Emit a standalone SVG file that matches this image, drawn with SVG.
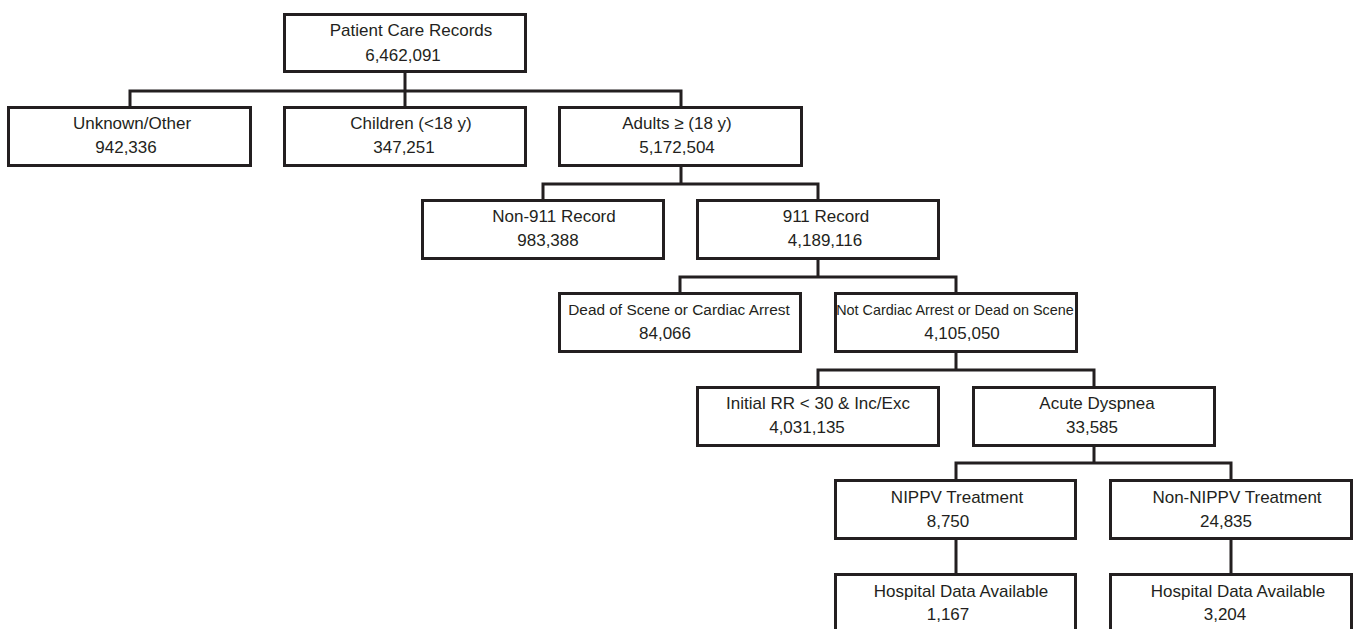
<svg xmlns="http://www.w3.org/2000/svg" width="1354" height="629" viewBox="0 0 1354 629">
<style>
.box{fill:#fff;stroke:#231f20;stroke-width:3}
.ln{fill:none;stroke:#231f20;stroke-width:3;stroke-linejoin:miter;stroke-linecap:square}
text{font-family:"Liberation Sans",Arial,sans-serif;font-size:17px;fill:#231f20;text-anchor:middle}
.sm{font-size:15.4px}
.xs{font-size:14.4px}
</style>
<rect width="1354" height="629" fill="#fff"/>
<g id="connectors">
<path class="ln" d="M405 73V91M130 107V91H681V107M405 91V107"/>
<path class="ln" d="M681 167V184M543 199V184H818V199"/>
<path class="ln" d="M818 260V277M680 292V277H956V292"/>
<path class="ln" d="M956 353V370M818 386V370H1094V386"/>
<path class="ln" d="M1094 447V463M956 479V463H1231V479"/>
<path class="ln" d="M956 539V573M1231 539V573"/>
</g>
<g id="root"><rect class="box" x="284.5" y="14.5" width="241" height="57"/><text x="411" y="36">Patient Care Records</text><text x="403" y="61">6,462,091</text></g>
<g id="unknown"><rect class="box" x="8.5" y="107.5" width="242" height="58"/><text x="132" y="129">Unknown/Other</text><text x="126" y="153">942,336</text></g>
<g id="children"><rect class="box" x="284.5" y="107.5" width="241" height="58"/><text x="411" y="129">Children (&lt;18 y)</text><text x="404" y="153">347,251</text></g>
<g id="adults"><rect class="box" x="559.5" y="107.5" width="242" height="58"/><text x="677" y="129">Adults ≥ (18 y)</text><text x="677" y="153">5,172,504</text></g>
<g id="non911"><rect class="box" x="422.5" y="200.5" width="241" height="58"/><text x="554" y="222">Non-911 Record</text><text x="548" y="246">983,388</text></g>
<g id="r911"><rect class="box" x="697.5" y="200.5" width="241" height="58"/><text x="826" y="222">911 Record</text><text x="825" y="246">4,189,116</text></g>
<g id="dead"><rect class="box" x="559.5" y="293.5" width="241" height="58"/><text class="sm" x="679" y="315">Dead of Scene or Cardiac Arrest</text><text x="665" y="339">84,066</text></g>
<g id="notcardiac"><rect class="box" x="835.5" y="293.5" width="241" height="58"/><text class="xs" x="955" y="315">Not Cardiac Arrest or Dead on Scene</text><text x="962" y="339">4,105,050</text></g>
<g id="initial"><rect class="box" x="697.5" y="387.5" width="241" height="58"/><text x="818" y="409">Initial RR &lt; 30 &amp; Inc/Exc</text><text x="807" y="433">4,031,135</text></g>
<g id="acute"><rect class="box" x="973.5" y="387.5" width="241" height="58"/><text x="1097" y="409">Acute Dyspnea</text><text x="1092" y="433">33,585</text></g>
<g id="nippv"><rect class="box" x="835.5" y="480.5" width="240" height="58"/><text x="957" y="503">NIPPV Treatment</text><text x="948" y="527">8,750</text></g>
<g id="nonnippv"><rect class="box" x="1110.5" y="480.5" width="241" height="58"/><text x="1237" y="503">Non-NIPPV Treatment</text><text x="1226" y="527">24,835</text></g>
<g id="hosp1"><rect class="box" x="835.5" y="574.5" width="240" height="70"/><text x="961" y="597">Hospital Data Available</text><text x="948" y="620">1,167</text></g>
<g id="hosp2"><rect class="box" x="1110.5" y="574.5" width="241" height="70"/><text x="1238" y="597">Hospital Data Available</text><text x="1225" y="620">3,204</text></g>
</svg>
